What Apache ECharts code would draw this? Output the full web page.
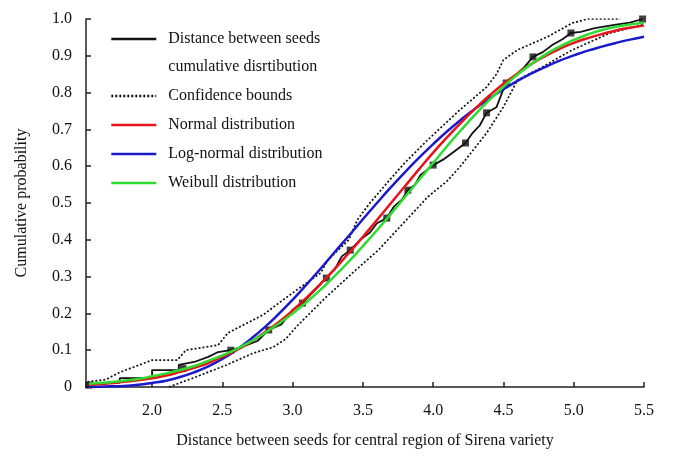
<!DOCTYPE html>
<html><head><meta charset="utf-8">
<script src="https://cdn.jsdelivr.net/npm/echarts@6/dist/echarts.min.js"></script>
<style>html,body{margin:0;padding:0;background:#fff}#c{width:673px;height:461px}</style>
</head><body><div id="c"></div>
<script>
// ---- data ----
const xTickValues = [2.0, 2.5, 3.0, 3.5, 4.0, 4.5, 5.0, 5.5];
const curveX = [1.55,1.6,1.7,1.8,1.9,2.0,2.1,2.2,2.3,2.4,2.5,2.6,2.7,2.8,2.9,3.0,3.1,3.2,3.3,3.4,3.5,3.6,3.7,3.8,3.9,4.0,4.1,4.2,4.3,4.4,4.5,4.6,4.7,4.8,4.9,5.0,5.1,5.2,5.3,5.4,5.5];
const normalP = [0.006,0.007,0.010,0.014,0.018,0.024,0.031,0.041,0.052,0.065,0.082,0.100,0.122,0.148,0.176,0.208,0.243,0.281,0.321,0.364,0.408,0.454,0.500,0.546,0.592,0.637,0.679,0.719,0.757,0.792,0.824,0.852,0.878,0.900,0.919,0.935,0.948,0.959,0.969,0.976,0.982];
const lognormalP = [0.0005,0.0007,0.002,0.003,0.006,0.011,0.017,0.027,0.040,0.056,0.076,0.101,0.130,0.162,0.198,0.237,0.279,0.322,0.367,0.411,0.456,0.500,0.543,0.584,0.623,0.660,0.695,0.727,0.757,0.784,0.809,0.832,0.852,0.870,0.887,0.901,0.914,0.925,0.935,0.944,0.952];
const weibullP = [0.008,0.010,0.013,0.017,0.022,0.029,0.037,0.046,0.057,0.071,0.086,0.103,0.123,0.146,0.172,0.200,0.231,0.265,0.302,0.341,0.383,0.426,0.471,0.517,0.563,0.609,0.655,0.699,0.741,0.780,0.816,0.849,0.878,0.904,0.925,0.943,0.958,0.970,0.979,0.985,0.990];
const ecdfX = [1.54,1.77,1.77,2.00,2.00,2.19,2.19,2.30,2.40,2.47,2.56,2.65,2.75,2.83,2.92,3.00,3.07,3.15,3.24,3.30,3.35,3.41,3.48,3.55,3.60,3.67,3.72,3.78,3.82,3.87,3.91,4.00,4.08,4.15,4.23,4.28,4.33,4.38,4.45,4.49,4.52,4.58,4.65,4.71,4.78,4.85,4.92,4.98,5.05,5.15,5.30,5.40,5.49];
const ecdfP = [0.008,0.012,0.024,0.024,0.046,0.046,0.06,0.068,0.082,0.095,0.10,0.11,0.125,0.155,0.17,0.21,0.228,0.26,0.296,0.32,0.355,0.372,0.40,0.42,0.445,0.459,0.49,0.51,0.535,0.55,0.576,0.603,0.62,0.64,0.663,0.69,0.71,0.745,0.76,0.80,0.826,0.845,0.87,0.897,0.91,0.93,0.945,0.962,0.965,0.975,0.985,0.99,1.0];
const markX = [1.55,2.22,2.56,2.83,3.07,3.24,3.41,3.67,3.82,4.00,4.23,4.38,4.52,4.71,4.98,5.49];
const markP = [0.005,0.05,0.10,0.155,0.228,0.296,0.372,0.459,0.535,0.603,0.663,0.745,0.826,0.897,0.962,1.0];
const upperX = [1.54,1.67,1.77,2.00,2.18,2.24,2.47,2.54,2.79,2.93,3.03,3.20,3.25,3.40,3.46,3.55,3.69,3.80,3.96,4.19,4.38,4.45,4.50,4.60,4.81,4.99,5.10,5.33];
const upperP = [0.014,0.02,0.04,0.073,0.073,0.10,0.114,0.147,0.196,0.236,0.264,0.31,0.345,0.40,0.454,0.50,0.5625,0.61,0.671,0.753,0.815,0.85,0.889,0.916,0.951,0.989,1.0,1.0];
const lowerX = [2.12,2.31,2.53,2.72,2.86,2.95,3.03,3.24,3.45,3.61,3.79,3.96,4.10,4.19,4.38,4.50,4.60,4.78,4.99,5.26,5.49];
const lowerP = [0.0,0.027,0.06,0.092,0.108,0.13,0.165,0.245,0.318,0.372,0.446,0.516,0.56,0.598,0.69,0.761,0.834,0.87,0.916,0.962,0.985];
const names = ['Distance between seeds cumulative disrtibution','Confidence bounds','Normal distribution','Log-normal distribution','Weibull distribution'];

const zip = (xs, ys) => xs.map((x, i) => [x, ys[i]]);
const FONT = 'Liberation Serif';
const chart = echarts.init(document.getElementById('c'), null, {renderer: 'canvas'});
chart.setOption({
  animation: false,
  backgroundColor: '#fff',
  textStyle: {fontFamily: FONT},
  grid: {left: 86, right: 29, top: 19, bottom: 74},
  legend: {
    orient: 'vertical', left: 110, top: -3, padding: 0, itemGap: 1,
    itemWidth: 45, itemHeight: 14,
    data: names,
    itemStyle: {opacity: 0},
    lineStyle: {width: 2.6},
    formatter: n => n === names[0] ? '\u00a0\nDistance between seeds\ncumulative disrtibution' : n,
    textStyle: {fontFamily: FONT, fontSize: 16, color: '#111', lineHeight: 28, padding: [0, 0, 0, 7]}
  },
  xAxis: {
    type: 'value', min: 1.53, max: 5.5,
    name: 'Distance between seeds for central region of Sirena variety',
    nameLocation: 'middle', nameGap: 46,
    nameTextStyle: {fontFamily: FONT, fontSize: 16, color: '#111'},
    axisLine: {lineStyle: {color: '#222', width: 1.5}},
    axisTick: {inside: true, length: 5, customValues: xTickValues, lineStyle: {color: '#222', width: 1.5}},
    axisLabel: {customValues: xTickValues, formatter: v => v.toFixed(1), margin: 16, fontFamily: FONT, fontSize: 16, color: '#111'},
    splitLine: {show: false}
  },
  yAxis: {
    type: 'value', min: 0, max: 1, interval: 0.1,
    name: 'Cumulative probability',
    nameLocation: 'middle', nameGap: 56,
    nameTextStyle: {fontFamily: FONT, fontSize: 16, color: '#111'},
    axisLine: {show: true, lineStyle: {color: '#222', width: 1.5}},
    axisTick: {show: true, inside: true, length: 5, lineStyle: {color: '#222', width: 1.5}},
    axisLabel: {formatter: v => v === 0 ? '0' : v.toFixed(1), margin: 14, fontFamily: FONT, fontSize: 16, color: '#111'},
    splitLine: {show: false}
  },
  series: [
    {name: names[1], type: 'line', symbol: 'none', data: zip(upperX, upperP), lineStyle: {color: '#111', width: 1.7, type: [2, 2]}, itemStyle: {color: '#111'}, z: 2},
    {name: names[1], type: 'line', symbol: 'none', data: zip(lowerX, lowerP), lineStyle: {color: '#111', width: 1.7, type: [2, 2]}, itemStyle: {color: '#111'}, z: 2},
    {name: names[0], type: 'line', symbol: 'none', data: zip(ecdfX, ecdfP), lineStyle: {color: '#111', width: 1.8}, itemStyle: {color: '#111'}, z: 3},
    {name: 'markers', type: 'scatter', symbol: 'rect', symbolSize: 7, data: zip(markX, markP), itemStyle: {color: '#111'}, z: 3},
    {name: names[3], type: 'line', symbol: 'none', smooth: true, data: zip(curveX, lognormalP), lineStyle: {color: '#1a1acc', width: 2.5}, itemStyle: {color: '#1a1acc'}, z: 4},
    {name: names[2], type: 'line', symbol: 'none', smooth: true, data: zip(curveX, normalP), lineStyle: {color: '#e8141b', width: 2.5}, itemStyle: {color: '#e8141b'}, z: 4},
    {name: names[4], type: 'line', symbol: 'none', smooth: true, data: zip(curveX, weibullP), lineStyle: {color: '#2edc2e', width: 2.5}, itemStyle: {color: '#2edc2e'}, z: 4}
  ]
});
</script></body></html>
